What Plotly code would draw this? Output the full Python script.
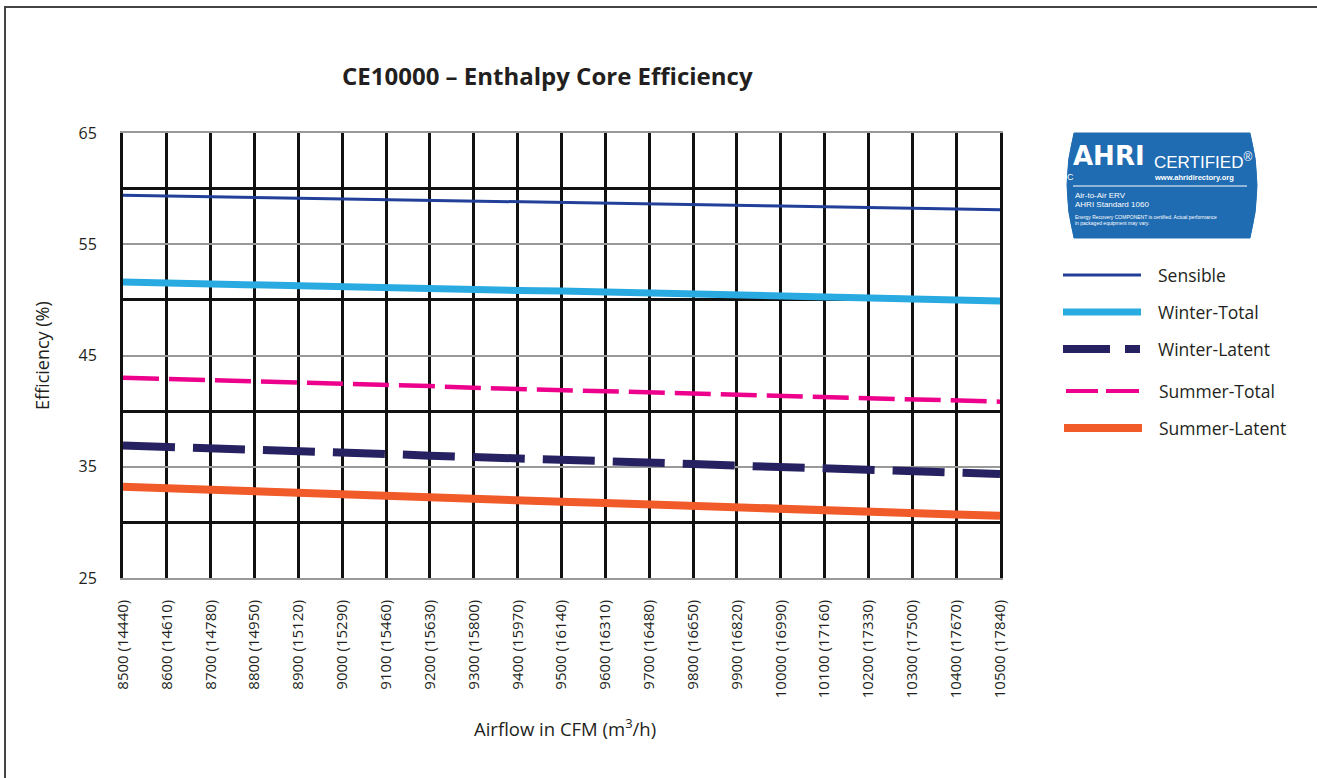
import plotly.graph_objects as go

# ---------------- data ----------------
cfm = [8500, 8600, 8700, 8800, 8900, 9000, 9100, 9200, 9300, 9400, 9500,
       9600, 9700, 9800, 9900, 10000, 10100, 10200, 10300, 10400, 10500]
m3h = [14440, 14610, 14780, 14950, 15120, 15290, 15460, 15630, 15800, 15970, 16140,
       16310, 16480, 16650, 16820, 16990, 17160, 17330, 17500, 17670, 17840]
categories = [f"{a} ({b})" for a, b in zip(cfm, m3h)]

sensible = [59.4, 59.34, 59.27, 59.21, 59.14, 59.08, 59.01, 58.95, 58.88, 58.82, 58.75,
            58.69, 58.62, 58.56, 58.49, 58.43, 58.36, 58.30, 58.23, 58.17, 58.1]
winter_total = [51.6, 51.5, 51.4, 51.35, 51.25, 51.2, 51.1, 51.0, 50.95, 50.85, 50.8,
                50.7, 50.6, 50.5, 50.45, 50.35, 50.3, 50.2, 50.1, 50.0, 49.9]
winter_latent = [36.9, 36.8, 36.65, 36.5, 36.4, 36.25, 36.15, 36.0, 35.9, 35.75, 35.6,
                 35.5, 35.35, 35.25, 35.1, 35.0, 34.85, 34.75, 34.6, 34.5, 34.35]
summer_total = [43.0, 42.9, 42.8, 42.7, 42.55, 42.45, 42.35, 42.25, 42.1, 42.0, 41.9,
                41.8, 41.7, 41.6, 41.5, 41.4, 41.3, 41.2, 41.05, 40.95, 40.85]
summer_latent = [33.2, 33.05, 32.9, 32.8, 32.65, 32.55, 32.4, 32.25, 32.15, 32.0, 31.85,
                 31.75, 31.6, 31.5, 31.35, 31.2, 31.1, 30.95, 30.85, 30.7, 30.6]

y_ticks = [25, 35, 45, 55, 65]
y_major_grid = [30, 40, 50, 60]

# ---------------- layout geometry ----------------
W, H = 1317, 778
L, R, T, B = 123, 317, 133, 200
PW, PH = W - L - R, H - T - B


def px(x):
    return (x - L) / PW


def py(y):
    return (H - B - y) / PH


FONT = "Open Sans"
BADGE_FONT = "Liberation Sans"

series = [
    ("Sensible", sensible, "#22409a", 3, "solid"),
    ("Winter-Total", winter_total, "#29abe2", 7, "solid"),
    ("Summer-Total", summer_total, "#ec008c", 4.5, "36px,10px"),
    ("Winter-Latent", winter_latent, "#262262", 8, "52px,18px"),
    ("Summer-Latent", summer_latent, "#f15a29", 8, "solid"),
]

fig = go.Figure()
for name, vals, color, width, dash in series:
    fig.add_trace(go.Scatter(x=categories, y=vals, mode="lines", name=name,
                             line=dict(color=color, width=width, dash=dash),
                             showlegend=False))

fig.update_layout(
    width=W, height=H,
    margin=dict(l=L, r=R, t=T, b=B),
    paper_bgcolor="white", plot_bgcolor="white",
    font=dict(family=FONT, color="#231f20"),
    showlegend=False,
)

fig.update_xaxes(
    type="category", range=[0, len(categories) - 1],
    showgrid=True, gridcolor="#111111", gridwidth=3,
    showline=True, linecolor="#999999", linewidth=1.5, mirror=True,
    tickangle=-90, tickfont=dict(size=15, family=FONT, color="#231f20"),
    ticks="", ticklabelstandoff=14, zeroline=False,
)
fig.update_yaxes(
    range=[25, 65], tickmode="array", tickvals=y_ticks,
    ticktext=[str(v) for v in y_ticks],
    showgrid=True, gridcolor="#999999", gridwidth=1.5,
    minor=dict(tickmode="array", tickvals=y_major_grid, showgrid=True,
               gridcolor="#111111", gridwidth=3, ticks=""),
    tickfont=dict(size=16, family=FONT, color="#231f20"),
    showline=True, linecolor="#111111", linewidth=3, mirror=True,
    ticks="", ticklabelstandoff=20, zeroline=False,
)

shapes = []
annotations = []

# outer frame
shapes.append(dict(type="rect", xref="paper", yref="paper",
                   x0=px(5), x1=px(1400), y0=py(7), y1=py(900),
                   line=dict(color="#444444", width=2), fillcolor="rgba(0,0,0,0)",
                   layer="below"))

# title
annotations.append(dict(text="<b>CE10000 – Enthalpy Core Efficiency</b>", xref="paper", yref="paper",
                        x=px(547), y=py(75), showarrow=False, xanchor="center", yanchor="middle",
                        font=dict(size=24, family=FONT, color="#231f20")))
# axis titles
annotations.append(dict(text="Airflow in CFM (m<sup>3</sup>/h)", xref="paper", yref="paper",
                        x=px(565), y=py(727), showarrow=False, xanchor="center", yanchor="middle",
                        font=dict(size=18.5, family=FONT, color="#231f20")))
annotations.append(dict(text="Efficiency (%)", xref="paper", yref="paper", textangle=-90,
                        x=px(42), y=py(356), showarrow=False, xanchor="center", yanchor="middle",
                        font=dict(size=18, family=FONT, color="#231f20")))

# legend (drawn manually)
leg_rows = [
    ("Sensible", "#22409a", 3, [(1063, 1141)], 275, 1156),
    ("Winter-Total", "#29abe2", 7, [(1063, 1141)], 312, 1156),
    ("Winter-Latent", "#262262", 8, [(1063, 1110), (1125, 1140)], 349, 1156),
    ("Summer-Total", "#ec008c", 4, [(1066, 1098), (1106, 1139)], 391, 1157),
    ("Summer-Latent", "#f15a29", 8, [(1064, 1142)], 428, 1157),
]
for name, color, width, segs, yy, tx in leg_rows:
    for a, b in segs:
        shapes.append(dict(type="line", xref="paper", yref="paper",
                           x0=px(a), x1=px(b), y0=py(yy), y1=py(yy),
                           line=dict(color=color, width=width)))
    annotations.append(dict(text=name, xref="paper", yref="paper", x=px(tx), y=py(yy),
                            showarrow=False, xanchor="left", yanchor="middle",
                            font=dict(size=17.5, family=FONT, color="#231f20")))


# AHRI certified badge
def P(x, y):
    return f"{px(x):.5f},{py(y):.5f}"


badge = (f"M{P(1074,133)} L{P(1250,133)} Q{P(1264,185)} {P(1250,238)} "
         f"L{P(1074,238)} Q{P(1060,185)} {P(1074,133)} Z")
shapes.append(dict(type="path", xref="paper", yref="paper", path=badge,
                   fillcolor="#1f6cb2", line=dict(color="#1f6cb2", width=1)))
shapes.append(dict(type="line", xref="paper", yref="paper", x0=px(1073), x1=px(1247),
                   y0=py(186), y1=py(186), line=dict(color="white", width=1)))

badge_texts = [
    ("<b>AHRI</b>", 1071, 156, 26, "DejaVu Sans"),
    ("CERTIFIED<sup>®</sup>", 1152, 161, 17, BADGE_FONT),
    ("<b>www.ahridirectory.org</b>", 1152, 177, 7.5, BADGE_FONT),
    ("C", 1065, 177, 9, BADGE_FONT),
    ("Air-to-Air ERV", 1073, 195, 8, BADGE_FONT),
    ("AHRI Standard 1060", 1073, 204, 8, BADGE_FONT),
    ("Energy Recovery COMPONENT is certified. Actual performance", 1073, 217, 5, BADGE_FONT),
    ("in packaged equipment may vary.", 1073, 223, 5, BADGE_FONT),
]
for txt, x, y, size, fam in badge_texts:
    annotations.append(dict(text=txt, xref="paper", yref="paper", x=px(x), y=py(y),
                            showarrow=False, xanchor="left", yanchor="middle",
                            font=dict(size=size, family=fam, color="white")))

fig.update_layout(shapes=shapes, annotations=annotations)

fig.write_html("out.html", config={"displayModeBar": False},
               post_script="document.body.style.margin='0';")
